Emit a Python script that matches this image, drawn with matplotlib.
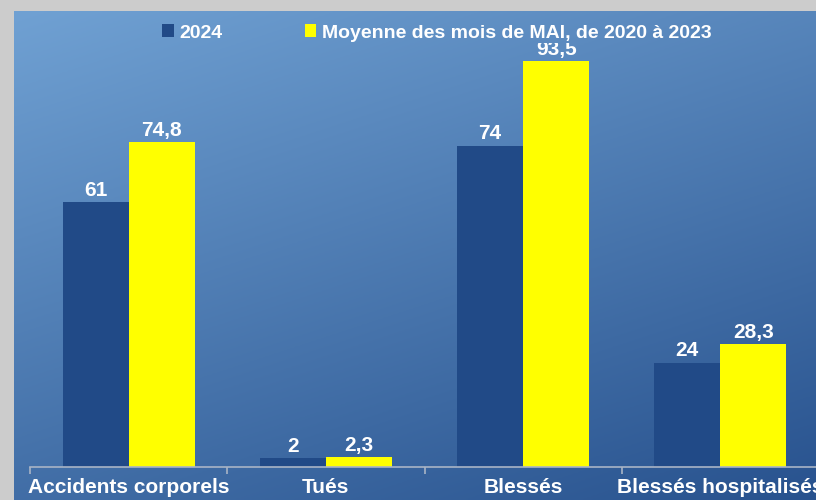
import numpy as np
import matplotlib
matplotlib.use("Agg")
import matplotlib.pyplot as plt
from matplotlib.patches import Patch, Rectangle

categories = ["Accidents corporels", "Tués", "Blessés", "Blessés hospitalisés"]
series_2024 = [61, 2, 74, 24]
series_moy = [74.8, 2.3, 93.5, 28.3]
labels_2024 = ["61", "2", "74", "24"]
labels_moy = ["74,8", "2,3", "93,5", "28,3"]
legend_names = ["2024", "Moyenne des mois de MAI, de 2020 à 2023"]

plt.rcParams['font.family'] = ['Liberation Sans', 'DejaVu Sans']

W, H = 816, 500
fig = plt.figure(figsize=(W / 100, H / 100), dpi=100)
fig.patch.set_facecolor("#cccccc")

# background gradient panel
bg = fig.add_axes([14 / W, 0, 1 - 14 / W, 1 - 11 / H])
bg.set_axis_off()
ny, nx = 200, 300
yy, xx = np.mgrid[0:1:ny * 1j, 0:1:nx * 1j]
t = np.clip(0.35 * xx + 0.65 * yy, 0, 1)
c0 = np.array([112, 161, 211]) / 255
c1 = np.array([40, 82, 142]) / 255
img = c0[None, None, :] * (1 - t[..., None]) + c1[None, None, :] * t[..., None]
bg.imshow(img, aspect="auto", extent=[0, 1, 0, 1], origin="upper")
bg.set_xlim(0, 1)
bg.set_ylim(0, 1)

# main axes
left = 30 / W
right = 819 / W
bottom = (H - 467) / H
top = (H - 32.6) / H
ax = fig.add_axes([left, bottom, right - left, top - bottom])
ax.patch.set_alpha(0)
x = np.arange(len(categories))
bw = 0.335
dark = "#214A87"
yellow = "#FFFF00"
b1 = ax.bar(x - bw / 2, series_2024, bw, color=dark, zorder=2)
b2 = ax.bar(x + bw / 2, series_moy, bw, color=yellow, zorder=2)
ax.set_xlim(-0.5, 3.5)
ax.set_ylim(0, 100)
for s in ["top", "right", "left"]:
    ax.spines[s].set_visible(False)
ax.spines["bottom"].set_color("#a9b4c6")
ax.spines["bottom"].set_linewidth(1.2)
ax.set_yticks([])
ax.set_xticks(np.arange(-0.5, 3.6, 1.0), minor=False)
ax.set_xticklabels([])
ax.tick_params(axis="x", which="major", length=5, color="#a9b4c6", width=1.2)
ax.set_xticks(x, minor=True)
ax.set_xticklabels(categories, minor=True, color="white", fontsize=15, fontweight="bold")
ax.tick_params(axis="x", which="minor", length=0, pad=8)

# clip region for value labels (plot area starts a little below the legend)
clip_rect = Rectangle((0, 0), W, H - 42.5, transform=None, visible=False)
fig.add_artist(clip_rect)

for rects, labs in ((b1, labels_2024), (b2, labels_moy)):
    for r, lab in zip(rects, labs):
        a = ax.annotate(lab, (r.get_x() + r.get_width() / 2, r.get_height()),
                        xytext=(0, 4.5), textcoords="offset points", ha="center", va="baseline",
                        color="white", fontsize=15, fontweight="bold")
        a.set_clip_path(clip_rect)

handles = [Patch(facecolor=dark, edgecolor="none"), Patch(facecolor=yellow, edgecolor="none")]
leg = fig.legend(handles, legend_names, loc="center", bbox_to_anchor=(437 / W, 1 - 33 / H),
                 ncol=2, frameon=False, fontsize=14, handlelength=0.6, handleheight=0.6,
                 handletextpad=0.3, columnspacing=4.2, borderaxespad=0)
for txt in leg.get_texts():
    txt.set_color("white")
    txt.set_fontweight("bold")

fig.savefig("out.png", dpi=100, facecolor=fig.get_facecolor())
